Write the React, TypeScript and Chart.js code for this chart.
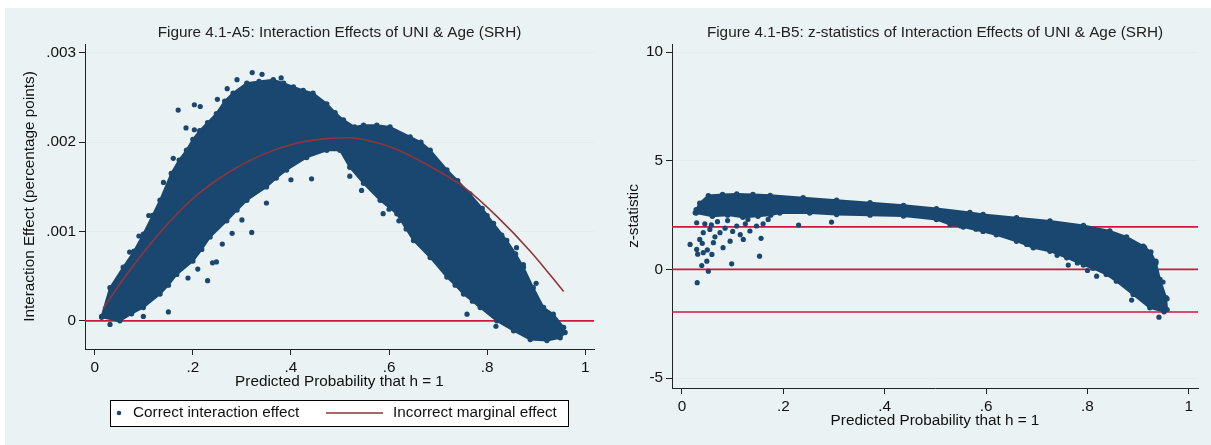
import React, { useEffect, useRef } from 'react';
import { Chart, registerables } from 'chart.js';

Chart.register(...registerables);

const NAVY = '#1A476F';
const MAROON = '#90353B';
const REFLINE = '#D2163E';
const BG = '#EAF2F3';
const GRID = '#E4ECEF';
const INK = '#111111';
const FONT = '"Liberation Sans", Arial, Helvetica, sans-serif';
const FS = 15.3;

// ---------- Panel A: interaction effects ----------
const aTitle = 'Figure 4.1-A5: Interaction Effects of UNI & Age (SRH)';
const aXTitle = 'Predicted Probability that h = 1';
const aYTitle = 'Interaction Effect (percentage points)';
const aXTicks = [0, 0.2, 0.4, 0.6, 0.8, 1];
const aYTicks = [0, 0.001, 0.002, 0.003];
const aRefLines = [0];

// upper edge of the point cloud, left to right
const aCloudUpper: [number, number][] = [
  [0.014, 0.00005], [0.031, 0.00037], [0.058, 0.0006], [0.08, 0.00078],
  [0.099, 0.00097], [0.118, 0.00118], [0.133, 0.00135], [0.156, 0.00165],
  [0.172, 0.0018], [0.187, 0.00191], [0.2, 0.00203], [0.214, 0.00213],
  [0.23, 0.00222], [0.248, 0.00232], [0.265, 0.00246], [0.282, 0.00255],
  [0.31, 0.00266], [0.335, 0.00268], [0.364, 0.0027], [0.385, 0.00266],
  [0.405, 0.00262], [0.425, 0.00258], [0.445, 0.00255], [0.473, 0.00243],
  [0.49, 0.00233], [0.507, 0.00225], [0.53, 0.00217], [0.548, 0.00219],
  [0.575, 0.00219], [0.602, 0.00217], [0.643, 0.00206], [0.665, 0.002],
  [0.684, 0.00191], [0.718, 0.00169], [0.74, 0.00157], [0.765, 0.00142],
  [0.79, 0.00126], [0.813, 0.00109], [0.84, 0.0009], [0.858, 0.00075],
  [0.874, 0.0006], [0.894, 0.00037], [0.915, 0.00015], [0.935, 0.000075],
  [0.956, -0.000075], [0.959, -0.00013],
];
// lower edge of the point cloud, left to right
const aCloudLower: [number, number][] = [
  [0.014, 0.00004], [0.051, 0.0], [0.075, 0.00008], [0.099, 0.00015],
  [0.133, 0.0003], [0.15, 0.0004], [0.167, 0.00052], [0.2, 0.00067],
  [0.218, 0.0008], [0.235, 0.00094], [0.269, 0.00112], [0.29, 0.00124],
  [0.31, 0.00135], [0.35, 0.0015], [0.37, 0.0016], [0.391, 0.00169],
  [0.432, 0.00183], [0.473, 0.00191], [0.5, 0.00191], [0.52, 0.00172],
  [0.548, 0.00154], [0.582, 0.00135], [0.616, 0.0012], [0.635, 0.00103],
  [0.65, 0.0009], [0.684, 0.00071], [0.718, 0.00049], [0.735, 0.0004],
  [0.752, 0.0003], [0.786, 0.00015], [0.82, 0.0], [0.854, -0.00011],
  [0.888, -0.00021], [0.922, -0.00022], [0.949, -0.00019],
];
const aOutliers: [number, number][] = [
  [0.17, 0.00236], [0.203, 0.00242], [0.186, 0.00216], [0.203, 0.00214],
  [0.321, 0.00278], [0.341, 0.00276], [0.32, 0.00099], [0.442, 0.00159],
  [0.23, 0.00045], [0.248, 0.00066], [0.24, 0.00065], [0.15, 0.0001],
  [0.099, 0.00005], [0.031, -0.00004], [0.071, 0.00077], [0.759, 0.000075],
  [0.818, -0.00006], [0.874, 0.00063], [0.544, 0.00146], [0.588, 0.0012],
  [0.83, 0.00096], [0.27, 0.0026], [0.29, 0.0027], [0.25, 0.00248],
  [0.215, 0.0024], [0.38, 0.00272], [0.56, 0.00158], [0.6, 0.00125],
  [0.7, 0.0008], [0.66, 0.00105], [0.045, 0.00002], [0.12, 0.00035],
  [0.28, 0.00098], [0.3, 0.00113], [0.35, 0.00132], [0.4, 0.00158],
  [0.62, 0.00112], [0.72, 0.00062], [0.74, 0.0005], [0.77, 0.00022],
  [0.16, 0.00182], [0.14, 0.00155], [0.11, 0.00118], [0.09, 0.00095],
  [0.26, 0.00086], [0.21, 0.00058], [0.19, 0.00048], [0.52, 0.00162],
  [0.68, 0.00083], [0.8, 0.00118], [0.86, 0.00082], [0.9, 0.00042],
];
// marginal effect curve
const aMarginal: [number, number][] = [
  [0.017, 0.00014], [0.065, 0.00052], [0.133, 0.00099], [0.2, 0.00137],
  [0.269, 0.00165], [0.337, 0.00185], [0.405, 0.00198], [0.473, 0.00204],
  [0.52, 0.00205], [0.548, 0.00203], [0.616, 0.00192], [0.684, 0.00173],
  [0.752, 0.0015], [0.82, 0.00117], [0.888, 0.00078], [0.956, 0.00033],
];
const aLegend = ['Correct interaction effect', 'Incorrect marginal effect'];

// ---------- Panel B: z-statistics ----------
const bTitle = 'Figure 4.1-B5: z-statistics of Interaction Effects of UNI & Age (SRH)';
const bXTitle = 'Predicted Probability that h = 1';
const bYTitle = 'z-statistic';
const bXTicks = [0, 0.2, 0.4, 0.6, 0.8, 1];
const bYTicks = [-5, 0, 5, 10];
const bRefLines = [-1.96, 0, 1.96];

const bCloudUpper: [number, number][] = [
  [0.028, 2.75], [0.035, 3.05], [0.052, 3.4], [0.08, 3.45], [0.108, 3.47],
  [0.14, 3.45], [0.174, 3.41], [0.239, 3.3], [0.305, 3.19], [0.371, 3.07],
  [0.437, 2.95], [0.502, 2.8], [0.568, 2.62], [0.594, 2.53], [0.66, 2.38],
  [0.726, 2.23], [0.792, 2.02], [0.844, 1.77], [0.877, 1.5], [0.91, 1.07],
  [0.925, 0.8], [0.935, 0.3], [0.943, -0.46], [0.955, -1.3], [0.957, -1.85],
];
const bCloudLower: [number, number][] = [
  [0.028, 2.6], [0.06, 2.45], [0.09, 2.5], [0.12, 2.4], [0.15, 2.45],
  [0.175, 2.5], [0.193, 2.6], [0.252, 2.6], [0.305, 2.53], [0.371, 2.5],
  [0.437, 2.46], [0.502, 2.3], [0.529, 2.07], [0.555, 1.95], [0.594, 1.75],
  [0.62, 1.6], [0.66, 1.3], [0.693, 1.0], [0.726, 0.84], [0.759, 0.54],
  [0.792, 0.2], [0.811, 0.05], [0.837, -0.23], [0.857, -0.54], [0.89, -1.15],
  [0.923, -1.77], [0.951, -1.95],
];
const bOutliers: [number, number][] = [
  [0.016, 1.15], [0.026, 2.61], [0.029, 2.15], [0.029, 0.92], [0.031, 0.7],
  [0.03, -0.61], [0.039, 0.18], [0.052, -0.08], [0.049, 0.38], [0.042, 0.77],
  [0.059, 0.69], [0.081, 1.0], [0.098, 0.26], [0.121, 1.38], [0.153, 0.61],
  [0.156, 1.43], [0.134, 1.77], [0.062, 1.23], [0.095, 1.3], [0.23, 2.04],
  [0.295, 2.18], [0.042, 1.69], [0.035, 1.38], [0.055, 1.84], [0.075, 1.69],
  [0.108, 2.0], [0.147, 2.0], [0.07, 2.2], [0.085, 1.9], [0.045, 2.1],
  [0.115, 1.6], [0.065, 1.5], [0.1, 1.75], [0.125, 2.1], [0.16, 2.1],
  [0.04, 1.2], [0.05, 0.9], [0.762, 0.2], [0.818, -0.31], [0.887, -1.41],
  [0.941, -2.2], [0.949, -0.58], [0.957, -1.35], [0.935, 0.38], [0.913, 1.0],
  [0.55, 2.0], [0.58, 1.85], [0.09, 2.25], [0.13, 2.3], [0.058, 2.05],
  [0.17, 2.3], [0.68, 1.15], [0.74, 0.65], [0.78, 0.3], [0.8, -0.05],
];

// ---------- helpers ----------
const pts = (arr: [number, number][]) => arr.map(([x, y]) => ({ x, y }));
const polygon = (upper: [number, number][], lower: [number, number][]) =>
  pts(upper.concat([...lower].reverse()));

const fmt = (v: number) => {
  if (v === 0) return '0';
  const s = String(+v.toFixed(6));
  return s.replace(/^0\./, '.').replace(/^-0\./, '-.');
};

const font = (size = FS) => ({ family: FONT, size, lineHeight: 1.2 });

const titlePlugin = {
  id: 'panelTitle',
  afterDraw(chart: any, _args: any, opts: any) {
    const { ctx, chartArea } = chart;
    ctx.save();
    ctx.font = `${FS}px ${FONT}`;
    ctx.fillStyle = '#222';
    ctx.textAlign = 'center';
    ctx.textBaseline = 'middle';
    ctx.fillText(opts.text, (chartArea.left + chartArea.right) / 2, 33);
    ctx.restore();
  },
};

const legendPlugin = {
  id: 'boxLegend',
  afterDraw(chart: any, _args: any, opts: any) {
    if (!opts || !opts.labels) return;
    const { ctx } = chart;
    const y = 413;
    ctx.save();
    ctx.fillStyle = '#fff';
    ctx.fillRect(110.5, 400.5, 458, 26);
    ctx.strokeStyle = '#000';
    ctx.lineWidth = 1;
    ctx.strokeRect(110.5, 400.5, 458, 26);
    ctx.fillStyle = NAVY;
    ctx.beginPath();
    ctx.arc(119, y, 2.3, 0, Math.PI * 2);
    ctx.fill();
    ctx.strokeStyle = MAROON;
    ctx.lineWidth = 1.6;
    ctx.beginPath();
    ctx.moveTo(326, y);
    ctx.lineTo(383, y);
    ctx.stroke();
    ctx.font = `${FS}px ${FONT}`;
    ctx.fillStyle = INK;
    ctx.textAlign = 'left';
    ctx.textBaseline = 'middle';
    ctx.fillText(opts.labels[0], 133, y);
    ctx.fillText(opts.labels[1], 393, y);
    ctx.restore();
  },
};

function buildConfig(p: any) {
  const refSets = p.refLines.map((v: number) => ({
    label: 'ref',
    data: [{ x: p.xMin, y: v }, { x: p.xMax, y: v }],
    showLine: true,
    borderColor: REFLINE,
    borderWidth: 1.6,
    pointRadius: 0,
    order: 5,
  }));
  const datasets: any[] = [
    ...refSets,
    {
      label: 'cloud',
      data: polygon(p.upper, p.lower),
      showLine: true,
      fill: 'shape',
      backgroundColor: NAVY,
      borderColor: NAVY,
      borderWidth: 2,
      pointRadius: 2.7,
      pointBackgroundColor: NAVY,
      pointBorderWidth: 0,
      order: 3,
    },
    {
      label: 'outliers',
      data: pts(p.outliers),
      pointRadius: 2.6,
      pointBackgroundColor: NAVY,
      pointBorderWidth: 0,
      order: 2,
    },
  ];
  if (p.curve) {
    datasets.push({
      label: 'marginal',
      data: pts(p.curve),
      showLine: true,
      borderColor: MAROON,
      borderWidth: 1.6,
      pointRadius: 0,
      cubicInterpolationMode: 'monotone',
      order: 0,
    });
  }
  return {
    type: 'scatter' as const,
    data: { datasets },
    plugins: p.legend ? [titlePlugin, legendPlugin] : [titlePlugin],
    options: {
      animation: false,
      responsive: false,
      devicePixelRatio: 1,
      layout: { padding: p.padding },
      plugins: {
        legend: { display: false },
        tooltip: { enabled: false },
        panelTitle: { text: p.title },
        boxLegend: p.legend ? { labels: p.legend } : {},
      },
      scales: {
        x: {
          type: 'linear',
          min: p.xMin,
          max: p.xMax,
          afterBuildTicks: (s: any) => { s.ticks = p.xTicks.map((v: number) => ({ value: v })); },
          afterFit: (s: any) => { s.height = 42; },
          ticks: {
            autoSkip: false, maxRotation: 0, padding: 4, color: INK, font: font(),
            callback: (v: number) => fmt(v),
          },
          grid: { drawOnChartArea: false, drawTicks: true, tickLength: 6, tickColor: '#222', tickWidth: 1 },
          border: { display: true, color: '#222', width: 1 },
          title: { display: true, text: p.xTitle, color: INK, font: font(), padding: { top: 0, bottom: 0 } },
        },
        y: {
          type: 'linear',
          min: p.yMin,
          max: p.yMax,
          afterBuildTicks: (s: any) => { s.ticks = p.yTicks.map((v: number) => ({ value: v })); },
          afterFit: (s: any) => { s.width = p.yWidth; },
          ticks: {
            autoSkip: false, padding: 3, color: INK, font: font(),
            callback: (v: number) => fmt(v),
          },
          grid: { color: GRID, lineWidth: 1, drawTicks: true, tickLength: 6, tickColor: '#222', tickWidth: 1 },
          border: { display: true, color: '#222', width: 1 },
          title: { display: true, text: p.yTitle, color: INK, font: font(), padding: { top: p.yTitlePad, bottom: 0 } },
        },
      },
    },
  };
}

export default function App() {
  const leftRef = useRef<HTMLCanvasElement | null>(null);
  const rightRef = useRef<HTMLCanvasElement | null>(null);

  useEffect(() => {
    const left = new Chart(leftRef.current as HTMLCanvasElement, buildConfig({
      title: aTitle, xTitle: aXTitle, yTitle: aYTitle,
      xMin: -0.02, xMax: 1.018, yMin: -0.000315, yMax: 0.0031,
      xTicks: aXTicks, yTicks: aYTicks, refLines: aRefLines,
      upper: aCloudUpper, lower: aCloudLower, outliers: aOutliers, curve: aMarginal,
      legend: aLegend,
      yWidth: 85, yTitlePad: 21,
      padding: { left: 0, top: 44, right: 16, bottom: 54 },
    }) as any);
    const right = new Chart(rightRef.current as HTMLCanvasElement, buildConfig({
      title: bTitle, xTitle: bXTitle, yTitle: bYTitle,
      xMin: -0.0197, xMax: 1.018, yMin: -5.46, yMax: 10.38,
      xTicks: bXTicks, yTicks: bYTicks, refLines: bRefLines,
      upper: bCloudUpper, lower: bCloudLower, outliers: bOutliers, curve: null,
      legend: null,
      yWidth: 62, yTitlePad: 15,
      padding: { left: 0, top: 44, right: 13, bottom: 15 },
    }) as any);
    return () => {
      left.destroy();
      right.destroy();
    };
  }, []);

  return (
    <div style={{ position: 'fixed', left: 0, top: 0, width: 1211, height: 445, background: '#fff', overflow: 'hidden' }}>
      <div style={{ position: 'absolute', left: 5, top: 8, right: 0, bottom: 0, background: BG }} />
      <canvas ref={leftRef} width={610} height={445}
        style={{ position: 'absolute', left: 0, top: 0, width: 610, height: 445 }} />
      <canvas ref={rightRef} width={601} height={445}
        style={{ position: 'absolute', left: 610, top: 0, width: 601, height: 445 }} />
    </div>
  );
}
